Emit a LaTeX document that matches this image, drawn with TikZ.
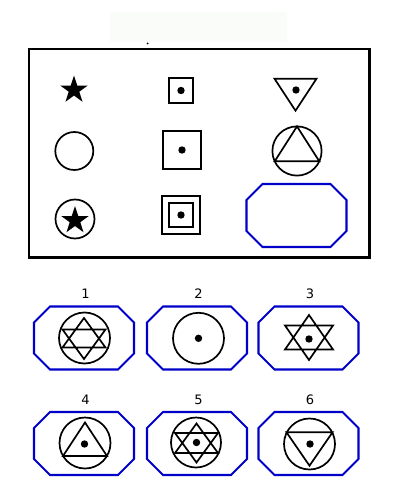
\documentclass[tikz,border=0pt]{standalone}
\usepackage{fontspec}
\setmainfont{DejaVu Sans}
\definecolor{octblue}{RGB}{0,0,200}
\definecolor{bannergray}{RGB}{250,252,250}
\tikzset{
    fig/.style={line width=1.7pt},
    frame/.style={line width=2.4pt},
    octa/.style={draw=octblue, line width=2.1pt},
    optlabel/.style={font=\fontsize{13}{15}\selectfont, inner sep=0pt},
    pics/octagon/.style={code={
        \draw[octa] (-50,-15.5) -- (-34,-31.5) -- (34,-31.5) -- (50,-15.5)
            -- (50,15.5) -- (34,31.5) -- (-34,31.5) -- (-50,15.5) -- cycle;
    }},
    pics/dot/.style={code={\fill (0,0) circle[radius=3.7];}},
    pics/fivestar/.style={code={
        \fill (-90:14.5) \foreach \i in {1,...,9} {
            -- ({-90+36*\i}:{ifthenelse(mod(\i,2)==0,14.5,5.55)})
        } -- cycle;
    }},
    % #1 outer radius, #2 height of the bars, #3 half width
    pics/hexagram/.style n args={3}{code={
        \draw[fig] (0,-#1) -- (#3,#2) -- (-#3,#2) -- cycle
                   (0,#1) -- (#3,-#2) -- (-#3,-#2) -- cycle;
    }},
}

\begin{document}
\begin{tikzpicture}[x=1pt, y=-1pt]
    \useasboundingbox (0,0) rectangle (400,500);
    \fill[bannergray] (110,12) rectangle (287,42);
    \fill (147.7,43.5) circle[radius=1];

    % question grid
    \draw[frame] (29.2,49.2) rectangle (369.3,257.5);
    \pic (s11) at (74,90) {fivestar};
    \draw[fig] (168.7,77.7) rectangle (193.3,103.3);
    \pic (d12) at (181,90.5) {dot};
    \draw[fig] (274.5,78.7) -- (316.5,78.7) -- (295.5,110.7) -- cycle;
    \pic (d13) at (296,90) {dot};

    \draw[fig] (74.3,151) circle[radius=19];
    \draw[fig] (162.7,130.7) rectangle (201.3,169.3);
    \pic (d22) at (182,150) {dot};
    \draw[fig] (297,151) circle[radius=24.6];
    \draw[fig] (297,126.4) -- (319.3,161.3) -- (274.7,161.3) -- cycle;

    \draw[fig] (75,219) circle[radius=19.5];
    \pic (s31) at (75,220.5) {fivestar};
    \draw[fig] (161.7,195.7) rectangle (200.3,234.3);
    \draw[fig] (168.7,202.7) rectangle (193.3,227.3);
    \pic (d32) at (181,215) {dot};
    \pic (q) at (296.5,215.5) {octagon};

    % answer options
    \foreach \n/\x/\y/\ly in {1/84/338/294, 2/197/338/294, 3/308.5/338/294,
                              4/84/443.5/400, 5/197/443.5/400, 6/308.5/443.5/400} {
        \pic (opt\n) at (\x,\y) {octagon};
        \node[optlabel] (lab\n) at (\x+1.5,\ly) {\n};
    }

    \draw[fig] (84.5,338) circle[radius=25.5];
    \pic (h1) at (84,338.5) {hexagram={20.5}{9}{21.5}};

    \draw[fig] (198.5,338.3) circle[radius=25.5];
    \pic (d2) at (198.5,338.3) {dot};

    \pic (h3) at (309,337.5) {hexagram={22.5}{12}{24}};
    \pic (d3) at (309,339) {dot};

    \draw[fig] (85,443) circle[radius=25.5];
    \draw[fig] (85,422.5) -- (107,456) -- (63,456) -- cycle;
    \pic (d4) at (84.5,444) {dot};

    \draw[fig] (196,442.5) circle[radius=25];
    \pic (h5) at (196.5,443) {hexagram={19.5}{10}{21.5}};
    \pic (d5) at (196.5,442.5) {dot};

    \draw[fig] (309.5,444) circle[radius=25.5];
    \draw[fig] (286.5,432.3) -- (332.5,432.3) -- (309.5,465.7) -- cycle;
    \pic (d6) at (310,444) {dot};
\end{tikzpicture}
\end{document}
